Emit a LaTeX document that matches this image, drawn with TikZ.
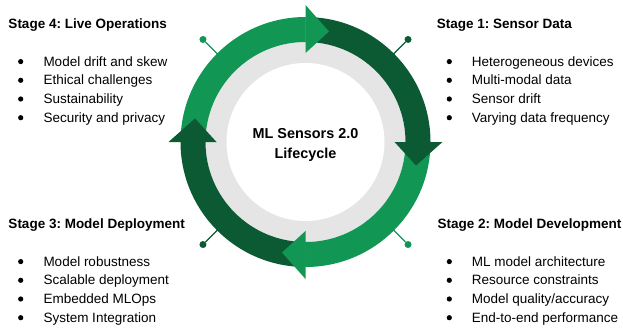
\documentclass[tikz,border=0pt]{standalone}
\usepackage{fontspec}
\setmainfont{Liberation Sans}
\usetikzlibrary{calc}
\frenchspacing
\definecolor{lightg}{RGB}{17,150,84}
\definecolor{darkg}{RGB}{11,90,51}
\definecolor{ringgray}{RGB}{229,229,229}
\tikzset{
  stagehead/.style={font=\fontsize{13.5}{16}\selectfont\bfseries, anchor=base west, inner sep=0pt},
  itemtext/.style={font=\fontsize{13.5}{16}\selectfont, anchor=base west, inner sep=0pt},
  bulletdot/.style={circle, fill=black, inner sep=0pt, minimum size=5.2pt},
  titletext/.style={font=\fontsize{14.4}{20}\selectfont\bfseries, anchor=base, inner sep=0pt},
  pindot/.style={circle, inner sep=0pt, minimum size=7pt},
}
\begin{document}
\begin{tikzpicture}[x=1pt,y=1pt]
\useasboundingbox (0,0) rectangle (623,333);
\coordinate (C) at (305.5,191);
% gray ring
\fill[ringgray] (C) circle[radius=100pt];
\fill[white] (C) circle[radius=79pt];
% arrow bodies
\foreach \a/\c in {180/lightg,90/darkg,0/lightg,-90/darkg}{
  \fill[\c] ($(C)+(\a:125pt)$) arc[start angle=\a, end angle=\a-90, radius=125pt]
    -- ($(C)+(\a-90:100pt)$) arc[start angle=\a-90, end angle=\a, radius=100pt] -- cycle;
}
% arrow heads
\foreach \a/\c in {90/lightg,0/darkg,-90/lightg,180/darkg}{
  \fill[\c] ($(C)+(\a:89pt)$) -- ($(C)+(\a:137pt)$) -- ($(C)+(\a-12:113pt)$) -- cycle;
}
% pins
\foreach \a/\c in {135/lightg,45/darkg,225/darkg,315/lightg}{
  \node[pindot, fill=\c] (p\a) at ($(C)+(\a:145pt)$) {};
  \coordinate (q\a) at ($(C)+(\a:124pt)$);
  \draw[\c, line width=1.3pt] (p\a) -- (q\a);
}
% centre title
\node[titletext] (t1) at (305.5,194.7) {ML Sensors 2.0};
\node[titletext] (t2) at (305.5,174.7) {Lifecycle};
% headings
\node[stagehead] (h4) at (8.3,304.7) {Stage 4: Live Operations};
\node[stagehead] (h1) at (436.7,305.0) {Stage 1: Sensor Data};
\node[stagehead] (h3) at (8.3,104.7) {Stage 3: Model Deployment};
\node[stagehead] (h2) at (437.3,104.7) {Stage 2: Model Development};
% lists
\foreach \t [count=\i] in {Model drift and skew,Ethical challenges,Sustainability,Security and privacy}{
  \node[itemtext] (a\i) at (43.3,{267-(\i-1)*18.7}) {\t};
  \node[bulletdot] (ad\i) at (20.7,{267-(\i-1)*18.7+4.4}) {};
}
\foreach \t [count=\i] in {Heterogeneous devices,Multi-modal data,Sensor drift,Varying data frequency}{
  \node[itemtext] (b\i) at (471.7,{267-(\i-1)*18.7}) {\t};
  \node[bulletdot] (bd\i) at (449.3,{267-(\i-1)*18.7+4.4}) {};
}
\foreach \t [count=\i] in {Model robustness,Scalable deployment,Embedded MLOps,System Integration}{
  \node[itemtext] (c\i) at (43.3,{67-(\i-1)*18.7}) {\t};
  \node[bulletdot] (cd\i) at (20.7,{67-(\i-1)*18.7+4.4}) {};
}
\foreach \t [count=\i] in {ML model architecture,Resource constraints,Model quality/accuracy,End-to-end performance}{
  \node[itemtext] (d\i) at (471.7,{67-(\i-1)*18.7}) {\t};
  \node[bulletdot] (dd\i) at (449.3,{67-(\i-1)*18.7+4.4}) {};
}
\end{tikzpicture}
\end{document}
